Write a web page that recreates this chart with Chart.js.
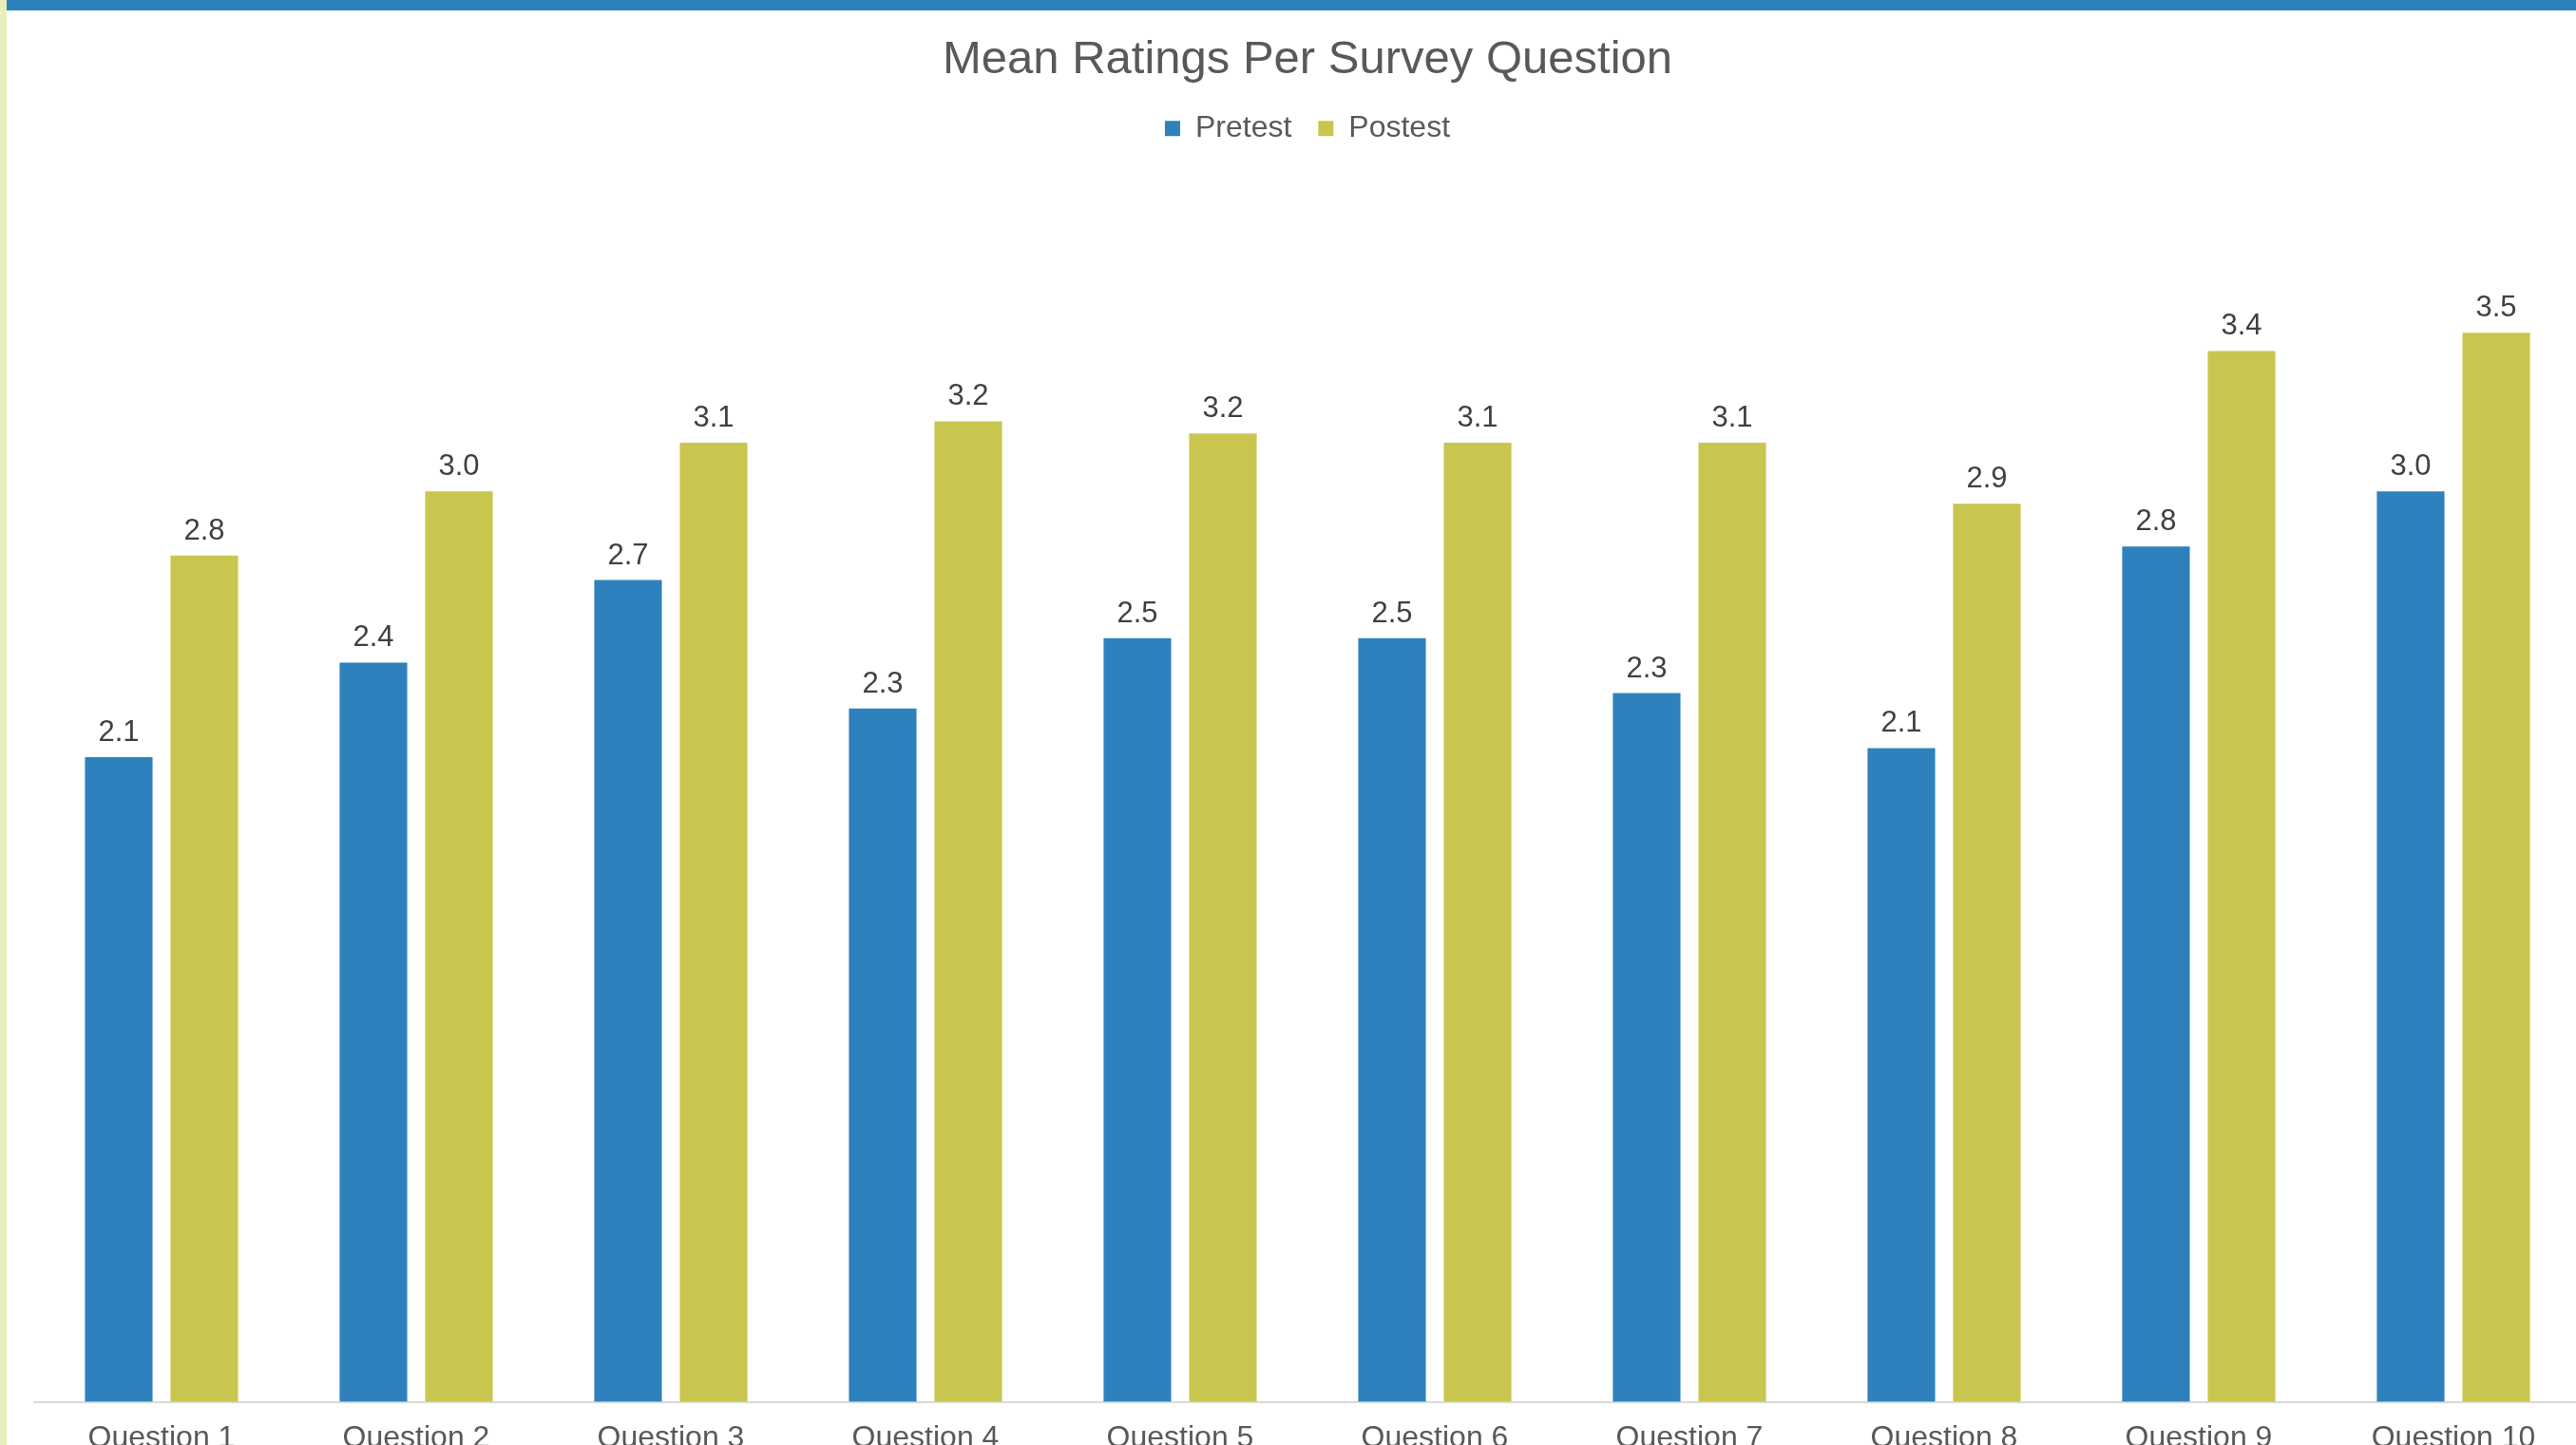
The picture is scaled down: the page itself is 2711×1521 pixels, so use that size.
<!DOCTYPE html>
<html>
<head>
<meta charset="utf-8">
<script src="https://cdn.jsdelivr.net/npm/chart.js@4/dist/chart.umd.min.js"></script>
<style>
  html, body { margin: 0; padding: 0; background: #fff; overflow: hidden; width: 2711px; height: 1521px; }
  #strip { position: absolute; left: 0; top: 0; width: 7px; height: 1521px; background: #E9EEBB; }
  #band { position: absolute; left: 7px; top: 0; right: 0; height: 11px; background: #2E81BB; }
  #wrap { position: absolute; left: 7px; top: 11px; width: 2740px; height: 1551px; }
</style>
</head>
<body>
<div id="strip"></div>
<div id="band"></div>
<div id="wrap"><canvas id="barchart" width="2740" height="1551"></canvas></div>
<script>
// chart values
var questions = ['Question 1', 'Question 2', 'Question 3', 'Question 4', 'Question 5',
                 'Question 6', 'Question 7', 'Question 8', 'Question 9', 'Question 10'];
var pretest  = [2.11, 2.42, 2.69, 2.27, 2.50, 2.50, 2.32, 2.14, 2.80, 2.98];
var posttest = [2.77, 2.98, 3.14, 3.21, 3.17, 3.14, 3.14, 2.94, 3.44, 3.50];
var seriesNames = ['Pretest', 'Postest'];
var colors = ['#2E81BC', '#C9C64F'];

var fontFamily = '"Liberation Sans", Arial, sans-serif';

// draws the value above every bar
var valueLabels = {
  id: 'valueLabels',
  afterDatasetsDraw: function(chart) {
    var ctx = chart.ctx;
    ctx.save();
    ctx.font = '31px ' + fontFamily;
    ctx.fillStyle = '#404040';
    ctx.textAlign = 'center';
    ctx.textBaseline = 'alphabetic';
    chart.data.datasets.forEach(function(ds, i) {
      chart.getDatasetMeta(i).data.forEach(function(bar, j) {
        ctx.fillText(ds.data[j].toFixed(1), bar.x, bar.y - 17);
      });
    });
    ctx.restore();
  }
};

var chartdata = {
  labels: questions,
  datasets: [
    { label: seriesNames[0], data: pretest, backgroundColor: colors[0], borderWidth: 0 },
    { label: seriesNames[1], data: posttest, backgroundColor: colors[1], borderWidth: 0 }
  ]
};

var ctx = document.getElementById('barchart').getContext('2d');
var barChart = new Chart(ctx, {
  type: 'bar',
  data: chartdata,
  plugins: [valueLabels],
  options: {
    responsive: false,
    animation: false,
    devicePixelRatio: 1,
    categoryPercentage: 0.672,
    barPercentage: 0.79,
    layout: { padding: { left: 29, right: 31, top: 0, bottom: 10 } },
    plugins: {
      tooltip: { enabled: false },
      title: {
        display: true,
        text: 'Mean Ratings Per Survey Question',
        color: '#595959',
        font: { family: fontFamily, size: 49, weight: 'normal', lineHeight: 1.15 },
        padding: { top: 24, bottom: 0 }
      },
      legend: {
        display: true,
        position: 'top',
        labels: {
          color: '#595959',
          font: { family: fontFamily, size: 32 },
          boxWidth: 16,
          boxHeight: 16,
          padding: 28
        }
      },
      // empty subtitle used as spacing between legend and plot
      subtitle: {
        display: true,
        text: '',
        weight: 500,
        font: { family: fontFamily, size: 10, lineHeight: 1 },
        padding: { top: 18, bottom: 0 }
      }
    },
    scales: {
      x: {
        grid: { display: false, drawTicks: false, tickLength: 0 },
        border: { display: true, color: '#D9D9D9', width: 2 },
        ticks: {
          color: '#595959',
          font: { family: fontFamily, size: 32 },
          padding: 19,
          maxRotation: 0,
          autoSkip: false
        }
      },
      y: {
        display: false,
        min: 0,
        max: 4
      }
    }
  }
});
</script>
</body>
</html>
